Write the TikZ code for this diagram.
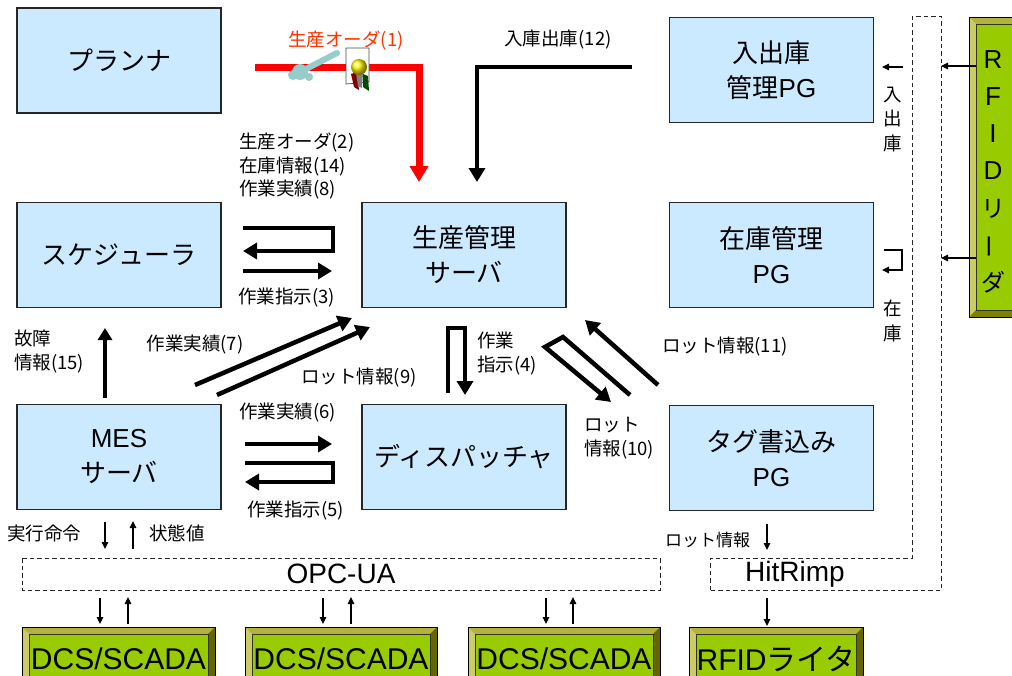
\documentclass[tikz,border=0pt]{standalone}
\usepackage{fontspec}
\setmainfont{Noto Sans CJK JP}
\newfontfamily\latinfont{Liberation Sans}
\usetikzlibrary{arrows.meta}

\definecolor{boxblue}{RGB}{204,234,255}
\definecolor{limegreen}{RGB}{153,204,0}
\definecolor{olivetop}{RGB}{178,178,60}
\definecolor{oliveleft}{RGB}{204,204,102}
\definecolor{olivedark}{RGB}{102,102,0}
\definecolor{olivebot}{RGB}{128,128,0}
\definecolor{ordered}{RGB}{255,51,0}
\definecolor{keyteal}{RGB}{150,204,204}

\newcommand{\boxfont}{\fontsize{26}{35}\selectfont}
\newcommand{\lblfont}{\fontsize{18.5}{23.5}\selectfont}
\newcommand{\greenfont}{\fontsize{30}{32}\selectfont}

% bevelled green unit: name, x1, y1, x2, y2, text
\newcommand{\greenbox}[6]{%
  \fill[olivetop] (#2,#3) rectangle (#4,#5);
  \fill[oliveleft] (#2,#3) -- (#2+7,#3+7) -- (#2+7,#5-7) -- (#2,#5) -- cycle;
  \fill[olivedark] (#4,#3) -- (#4-7,#3+7) -- (#4-7,#5-7) -- (#4,#5) -- cycle;
  \fill[olivebot] (#2,#5) -- (#2+7,#5-7) -- (#4-7,#5-7) -- (#4,#5) -- cycle;
  \draw[line width=1pt] (#2,#3) rectangle (#4,#5);
  \node[greeninner, minimum width={#4-#2-14}, minimum height={#5-#3-14}]
    (#1) at ({(#2+#4)/2},{(#3+#5)/2}) {};
  \node[font=\greenfont, inner sep=0pt] at (#1) {#6};
}

\tikzset{
  bluebox/.style={draw=black!85, line width=1.2pt, fill=boxblue,
    minimum width=204pt, minimum height=105pt, inner sep=0pt,
    align=center, font=\boxfont},
  greeninner/.style={draw=black!80, line width=0.8pt, fill=limegreen, inner sep=0pt},
  thickarrow/.style={line width=4.5pt, line join=miter,
    -{Triangle[length=14pt,width=16pt]}},
  redarrow/.style={line width=7pt, draw=red, line join=miter,
    -{Triangle[length=16pt,width=18pt]}},
  thinarrow/.style={line width=1.1pt, -{Triangle[length=7pt,width=6.5pt]}},
  dashbox/.style={draw=black!85, line width=1pt, dash pattern=on 4.5pt off 3pt},
  lbl/.style={font=\lblfont, inner sep=0pt, anchor=west, align=left},
  clbl/.style={font=\lblfont, inner sep=0pt, align=center},
  midfont/.style={inner sep=0pt, font=\latinfont\fontsize{28}{30}\selectfont},
}

\begin{document}
\begin{tikzpicture}[x=1pt,y=-1pt]
\clip (0,0) rectangle (1012,675);
\fill[white] (0,0) rectangle (1012,675);

% ---------------- application boxes ----------------
\node[bluebox] (planner)    at (119,60.5)  {プランナ};
\node[bluebox] (scheduler)  at (119,255)   {スケジューラ};
\node[bluebox] (mes)        at (119,457)   {{\latinfont MES}\\サーバ};
\node[bluebox] (server)     at (464,255)   {生産管理\\サーバ};
\node[bluebox] (dispatcher) at (464,457)   {ディスパッチャ};
\node[bluebox] (inout)      at (771.5,70)  {入出庫\\管理{\latinfont PG}};
\node[bluebox] (stock)      at (771.5,255) {在庫管理\\{\latinfont PG}};
\node[bluebox] (tagwriter)  at (771.5,458) {タグ書込み\\{\latinfont PG}};

% ---------------- middleware (dashed) ----------------
\draw[dashbox] (22,558) rectangle (660,590);
\node[midfont] (opc) at (341,574) {OPC-UA};
\draw[dashbox] (710,590) -- (710,558) -- (912,558) -- (912,16) -- (941,16) -- (941,590) -- cycle;
\node[midfont] (hitrimp) at (795,574) {HitRimp};

% ---------------- field devices ----------------
\greenbox{dcsA}{22}{627}{215}{690}{\latinfont DCS/SCADA}
\greenbox{dcsB}{245}{627}{437}{690}{\latinfont DCS/SCADA}
\greenbox{dcsC}{468}{627}{660}{690}{\latinfont DCS/SCADA}
\greenbox{writer}{689}{627}{863}{690}{{\latinfont RFID}ライタ}

% RFID reader (vertical)
\fill[olivetop] (969,17) rectangle (1030,317);
\fill[oliveleft] (969,17) -- (976,24) -- (976,310) -- (969,317) -- cycle;
\fill[olivebot] (969,317) -- (976,310) -- (1030,310) -- (1030,317) -- cycle;
\draw[line width=1pt] (969,17) rectangle (1030,317);
\node[greeninner, minimum width=60pt, minimum height=286pt, anchor=north west] (reader) at (976,24) {};
\foreach \ch/\yy in {R/60, F/97, I/134, D/171} {
  \node[font=\latinfont\fontsize{26}{28}\selectfont, inner sep=0pt] at (993,\yy) {\ch};
}
\node[font=\fontsize{24}{26}\selectfont, inner sep=0pt] at (993,209) {リ};
\node[font=\fontsize{24}{26}\selectfont, inner sep=0pt, rotate=90] at (993,246) {ー};
\node[font=\fontsize{24}{26}\selectfont, inner sep=0pt] at (993,282) {ダ};

% ---------------- production order (1), red ----------------
\coordinate (o1s) at (255,67);
\coordinate (o1c) at (419,67);
\coordinate (o1e) at (419,182);
\draw[redarrow] (o1s) -- (o1c) -- (o1e);
\node[clbl, text=ordered] (o1lbl) at (346,40) {生産オーダ(1)};
% key and certificate
\draw[keyteal, line width=6pt, line cap=round] (304,70) -- (337,53);
\fill[keyteal] (300,72) circle (8pt);
\fill[keyteal] (293,75) circle (5pt);
\fill[keyteal] (309,77) circle (4pt);
\draw[black!70, fill=white, line width=0.7pt] (346,48) -- (369,48) -- (369,82) -- (346,84) -- cycle;
\fill[red!50!black] (351,74) -- (357,72) -- (359,90) -- (354,87) -- cycle;
\fill[green!30!black] (363,74) -- (368,76) -- (369,91) -- (363,87) -- cycle;
\fill[black!50] (356,73) -- (363,73) -- (362,88) -- (358,86) -- cycle;
\shade[ball color=yellow!90!orange] (359,67) circle (8pt);

% ---------------- receipt / issue (12) ----------------
\coordinate (r12s) at (632,67);
\coordinate (r12c) at (477,67);
\coordinate (r12e) at (477,182);
\draw[thickarrow] (r12s) -- (r12c) -- (r12e);
\node[clbl] (r12lbl) at (558,40) {入庫出庫(12)};

% ---------------- scheduler <-> server ----------------
\coordinate (s2a) at (243,228);
\coordinate (s2b) at (333,228);
\coordinate (s2c) at (333,251);
\coordinate (s2d) at (243,251);
\draw[thickarrow] (s2a) -- (s2b) -- (s2c) -- (s2d);
\coordinate (s3a) at (243,271);
\coordinate (s3b) at (332,271);
\draw[thickarrow] (s3a) -- (s3b);
\node[lbl, anchor=north west] (s2lbl) at (239,133) {生産オーダ(2)\\在庫情報(14)\\作業実績(8)};
\node[lbl] (s3lbl) at (238,298) {作業指示(3)};

% ---------------- MES -> scheduler (15) ----------------
\coordinate (f15s) at (105,398);
\coordinate (f15e) at (105,328);
\draw[thickarrow, -{Triangle[length=12pt,width=14pt]}] (f15s) -- (f15e);
\node[lbl, anchor=north west] (f15lbl) at (14,330) {故障\\情報(15)};

% ---------------- MES -> server (7), (9) ----------------
\coordinate (m7s) at (195,385);
\coordinate (m7e) at (352,318);
\draw[thickarrow] (m7s) -- (m7e);
\node[clbl] (m7lbl) at (195,345) {作業実績(7)};
\coordinate (m9s) at (217,395);
\coordinate (m9e) at (370,327);
\draw[thickarrow] (m9s) -- (m9e);
\node[clbl] (m9lbl) at (359,378) {ロット情報(9)};

% ---------------- MES <-> dispatcher ----------------
\coordinate (d6s) at (245,444);
\coordinate (d6e) at (332,444);
\draw[thickarrow] (d6s) -- (d6e);
\coordinate (d5a) at (245,463);
\coordinate (d5b) at (333,463);
\coordinate (d5c) at (333,482);
\coordinate (d5d) at (245,482);
\draw[thickarrow] (d5a) -- (d5b) -- (d5c) -- (d5d);
\node[lbl] (d6lbl) at (239,413) {作業実績(6)};
\node[lbl] (d5lbl) at (247,511) {作業指示(5)};

% ---------------- server -> dispatcher (4) ----------------
\coordinate (w4a) at (448,393);
\coordinate (w4b) at (448,328);
\coordinate (w4c) at (465,328);
\coordinate (w4d) at (465,395);
\draw[thickarrow] (w4a) -- (w4b) -- (w4c) -- (w4d);
\node[lbl, anchor=north west] (w4lbl) at (477,332) {作業\\指示(4)};

% ---------------- server <-> tag writer (10), (11) ----------------
\coordinate (t10a) at (630,395);
\coordinate (t10b) at (563,337);
\coordinate (t10c) at (545,347);
\coordinate (t10d) at (611,402);
\draw[thickarrow] (t10a) -- (t10b) -- (t10c) -- (t10d);
\node[lbl, anchor=north west] (t10lbl) at (584,417) {ロット\\情報(10)};
\coordinate (t11s) at (658,385);
\coordinate (t11e) at (585,320);
\draw[thickarrow] (t11s) -- (t11e);
\node[lbl] (t11lbl) at (662,347) {ロット情報(11)};

% ---------------- RFID reader -> stock programs ----------------
\draw[thinarrow] (reader.west |- 0,66) coordinate (rr1) -- (941,66) coordinate (rr1e);
\draw[thinarrow] (reader.west |- 0,258) coordinate (rr2) -- (941,258) coordinate (rr2e);
\coordinate (io1) at (903,67);
\coordinate (io2) at (882,67);
\draw[thinarrow] (io1) -- (io2);
\foreach \ch/\yy in {入/95, 出/119, 庫/143} {
  \node[font=\lblfont, inner sep=0pt] at (893,\yy) {\ch};
}
\coordinate (sk1) at (884,250);
\coordinate (sk2) at (902,250);
\coordinate (sk3) at (902,270);
\coordinate (sk4) at (882,270);
\draw[thinarrow, line join=miter] (sk1) -- (sk2) -- (sk3) -- (sk4);
\foreach \ch/\yy in {在/308, 庫/333} {
  \node[font=\lblfont, inner sep=0pt] at (893,\yy) {\ch};
}

% ---------------- MES <-> OPC-UA ----------------
\draw[thinarrow] (105,522) coordinate (mc1) -- (105,549) coordinate (mc1e);
\draw[thinarrow] (133,549) coordinate (mc2) -- (133,521) coordinate (mc2e);
\node[lbl] (cmdlbl) at (7,533) {実行命令};
\node[lbl] (stlbl) at (149,533) {状態値};

% ---------------- tag writer -> HitRimp ----------------
\draw[thinarrow] (767,524) coordinate (tw1) -- (767,550) coordinate (tw1e);
\node[lbl, font=\fontsize{17}{20}\selectfont] (twlbl) at (665,540) {ロット情報};

% ---------------- OPC-UA <-> DCS/SCADA ----------------
\foreach \xd/\xu in {100/128, 323/351, 546/573} {
  \draw[thinarrow] (\xd,598) -- (\xd,624);
  \draw[thinarrow] (\xu,624) -- (\xu,597);
}
\draw[thinarrow] (767,598) -- (767,626);
\end{tikzpicture}
\end{document}
